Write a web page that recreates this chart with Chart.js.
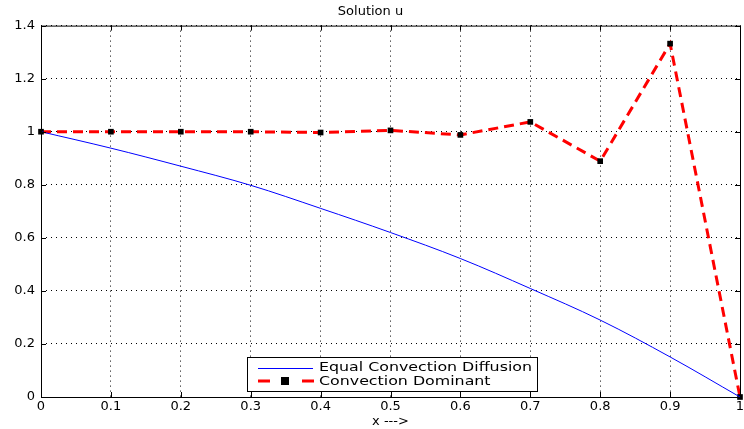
<!DOCTYPE html>
<html>
<head>
<meta charset="utf-8">
<script src="https://cdn.jsdelivr.net/npm/chart.js@4/dist/chart.umd.min.js"></script>
<style>
  html, body { margin: 0; padding: 0; background: #fff; }
  #wrap { width: 744px; height: 429px; }
</style>
</head>
<body>
<div id="wrap"><canvas id="solutionChart" width="744" height="429"></canvas></div>
<script>
// valores
const xValues = [0, 0.1, 0.2, 0.3, 0.4, 0.5, 0.6, 0.7, 0.8, 0.9, 1];
const equalDiffusion = [1, 0.938, 0.870, 0.798, 0.711, 0.620, 0.522, 0.409, 0.290, 0.151, 0];
const convectionDominant = [1, 1, 1, 1, 0.997, 1.005, 0.988, 1.037, 0.889, 1.332, 0];
const xTicks = [0, 0.1, 0.2, 0.3, 0.4, 0.5, 0.6, 0.7, 0.8, 0.9, 1];
const yTicks = [0, 0.2, 0.4, 0.6, 0.8, 1, 1.2, 1.4];
const seriesNames = ['Equal Convection Diffusion', 'Convection Dominant'];

const family = 'DejaVu Sans, Liberation Sans, Arial, sans-serif';
const font = { family, size: 13 };

// moldura, ticks internos e legenda dentro da área (estilo MATLAB)
const framePlugin = {
    id: 'frame',
    afterDraw(chart) {
        const { ctx, chartArea: a } = chart;
        ctx.save();
        ctx.strokeStyle = '#000';
        ctx.lineWidth = 1;
        ctx.setLineDash([]);
        ctx.strokeRect(a.left + 0.5, a.top + 0.5, a.right - a.left, a.bottom - a.top);
        const xs = chart.scales.x, ys = chart.scales.y;
        xTicks.forEach(v => {
            const px = Math.round(xs.getPixelForValue(v)) + 0.5;
            ctx.beginPath();
            ctx.moveTo(px, a.bottom); ctx.lineTo(px, a.bottom - 5);
            ctx.moveTo(px, a.top); ctx.lineTo(px, a.top + 5);
            ctx.stroke();
        });
        yTicks.forEach(v => {
            const py = Math.round(ys.getPixelForValue(v)) + 0.5;
            ctx.beginPath();
            ctx.moveTo(a.left, py); ctx.lineTo(a.left + 5, py);
            ctx.moveTo(a.right, py); ctx.lineTo(a.right - 5, py);
            ctx.stroke();
        });

        // legenda
        const bx = 247, by = 357, bw = 290, bh = 34;
        ctx.fillStyle = '#fff';
        ctx.fillRect(bx, by, bw, bh);
        ctx.strokeRect(bx + 0.5, by + 0.5, bw, bh);

        ctx.strokeStyle = '#0000ff';
        ctx.beginPath();
        ctx.moveTo(258, 368.5); ctx.lineTo(313, 368.5);
        ctx.stroke();

        ctx.strokeStyle = '#ff0000';
        ctx.lineWidth = 3;
        ctx.beginPath();
        ctx.moveTo(258, 381); ctx.lineTo(270, 381);
        ctx.moveTo(302, 381); ctx.lineTo(314, 381);
        ctx.stroke();
        ctx.fillStyle = '#000';
        ctx.fillRect(281, 377, 8, 8);

        // texto um pouco esticado na horizontal, como no original
        ctx.font = '13px ' + family;
        ctx.textBaseline = 'middle';
        const sx = 213 / ctx.measureText(seriesNames[0]).width;
        ctx.translate(319, 0);
        ctx.scale(sx, 1);
        ctx.fillText(seriesNames[0], 0, 368);
        ctx.fillText(seriesNames[1], 0, 382);
        ctx.restore();
    }
};

const ctx = document.getElementById('solutionChart').getContext('2d');
new Chart(ctx, {
    type: 'line',
    data: {
        datasets: [{
            label: seriesNames[0],
            data: xValues.map((x, i) => ({ x, y: equalDiffusion[i] })),
            borderColor: '#0000ff',
            borderWidth: 1,
            pointRadius: 0,
            tension: 0.35,
            fill: false
        }, {
            label: seriesNames[1],
            data: xValues.map((x, i) => ({ x, y: convectionDominant[i] })),
            borderColor: '#ff0000',
            borderWidth: 3,
            borderDash: [10, 6],
            pointStyle: 'rect',
            pointRadius: 4,
            pointBackgroundColor: '#000',
            pointBorderColor: '#000',
            pointBorderWidth: 0,
            tension: 0,
            fill: false
        }]
    },
    options: {
        responsive: false,
        animation: false,
        clip: false,
        layout: { padding: { top: 0, right: 3, bottom: 0, left: 0 } },
        plugins: {
            legend: { display: false },
            tooltip: { enabled: false },
            title: {
                display: true,
                text: 'Solution u',
                color: '#000',
                font: { family, size: 13, weight: 'normal' },
                padding: { top: 4, bottom: 6 }
            }
        },
        scales: {
            x: {
                type: 'linear',
                min: 0, max: 1,
                afterBuildTicks(scale) { scale.ticks = xTicks.map(v => ({ value: v })); },
                afterFit(scale) { scale.paddingLeft = 0; scale.paddingRight = 0; scale.height = 32; },
                ticks: {
                    color: '#000', font, padding: 2, maxRotation: 0, autoSkip: false,
                    callback: v => String(v)
                },
                grid: { color: '#000', lineWidth: 1, tickLength: 0, drawTicks: false },
                border: { display: false, dash: [1, 4] },
                title: { display: true, text: 'x --->', color: '#000', font: { family, size: 13 }, padding: { top: 0, bottom: 0 } }
            },
            y: {
                min: 0, max: 1.4,
                afterBuildTicks(scale) { scale.ticks = yTicks.map(v => ({ value: v })); },
                afterFit(scale) { scale.width = 41; },
                ticks: { color: '#000', font, padding: 6, callback: v => String(v) },
                grid: { color: '#000', lineWidth: 1, drawTicks: false },
                border: { display: false, dash: [1, 4] }
            }
        }
    },
    plugins: [framePlugin]
});
</script>
</body>
</html>
